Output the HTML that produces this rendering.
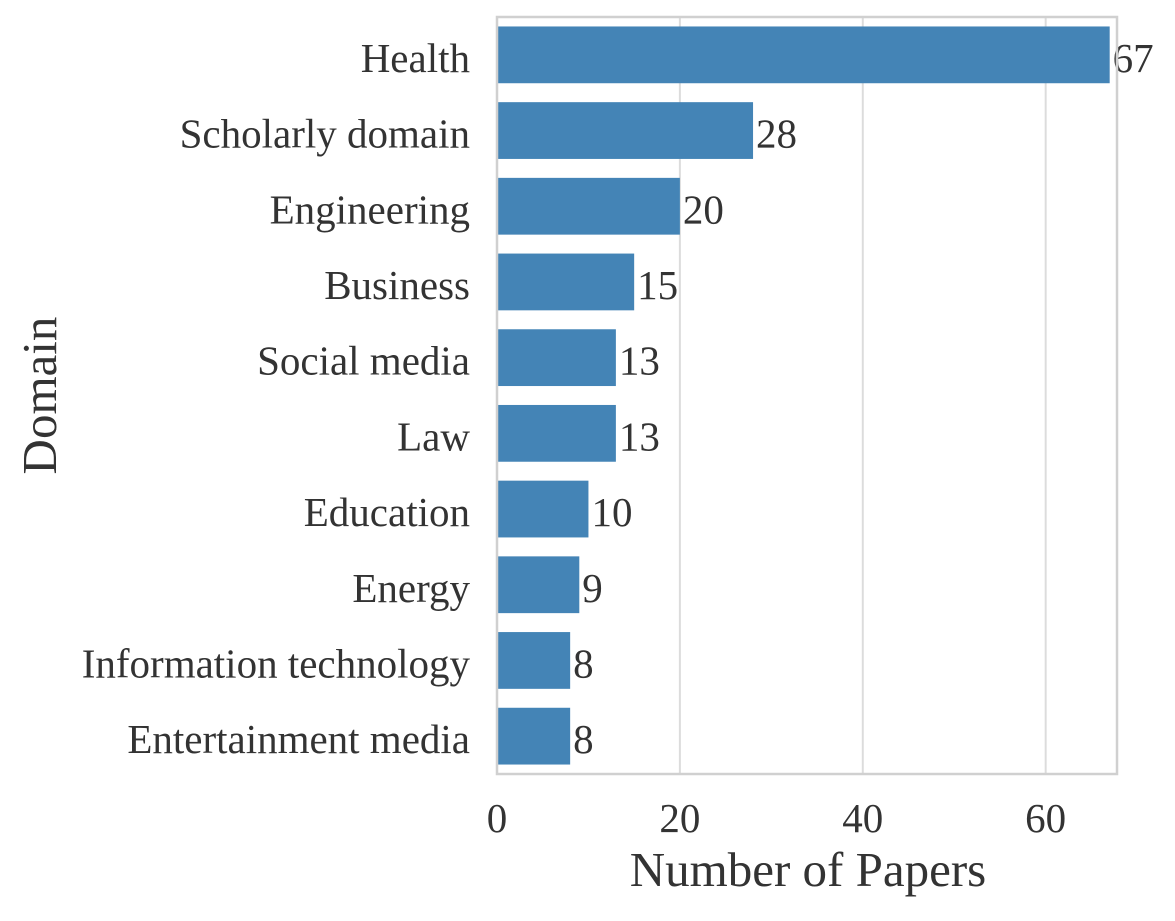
<!DOCTYPE html>
<html><head><meta charset="utf-8"><style>
html,body{margin:0;padding:0;background:#fff;}
svg text{font-family:"Liberation Serif",serif;fill:#333;}
</style></head><body>
<svg id="chart" width="1175" height="916" viewBox="0 0 1175 916"></svg>
<script>
const categories=["Health","Scholarly domain","Engineering","Business","Social media","Law","Education","Energy","Information technology","Entertainment media"];
const values=[67,28,20,15,13,13,10,9,8,8];
const xTicks=[0,20,40,60];
const L=497,R=1117,T=17,B=774,XMAX=67.8;
const svg=document.getElementById('chart');
const NS='http://www.w3.org/2000/svg';
function x(v){return L+(v/XMAX)*(R-L);}
const step=(B-T)/categories.length;
function yc(i){return T+step*(i+0.5);}
function mk(tag,attrs){const e=document.createElementNS(NS,tag);for(const k in attrs)e.setAttribute(k,attrs[k]);svg.appendChild(e);return e;}
xTicks.forEach(t=>{
  const g=mk('line',{x1:x(t),x2:x(t),y1:T,y2:B,stroke:'#dcdcdc','stroke-width':2});
  
  
  const tl=mk('text',{x:x(t),y:B+58,'text-anchor':'middle','font-size':41});
  tl.textContent=t;
  
  
});
categories.forEach((c,i)=>{
  const h=step*0.75;
  const r=mk('rect',{x:x(0),y:yc(i)-h/2,width:x(values[i])-x(0),height:h,fill:'#4484b6'});
  
  
  const lb=mk('text',{x:L-27,y:yc(i)+17,'text-anchor':'end','font-size':41});
  lb.textContent=c;
  
  
  const v=mk('text',{x:x(values[i])+3,y:yc(i)+17,'font-size':41});
  v.textContent=values[i];
  
  
});
const fr=mk('rect',{x:L,y:T,width:R-L,height:B-T,fill:'none',stroke:'#d0d0d0','stroke-width':2.5});


const xt=mk('text',{x:808,y:886,'text-anchor':'middle','font-size':49});
xt.textContent='Number of Papers';


const yt=mk('text',{x:0,y:0,'text-anchor':'middle','font-size':49,transform:'translate(56,'+((T+B)/2)+') rotate(-90)'});
yt.textContent='Domain';


</script>
</body></html>
